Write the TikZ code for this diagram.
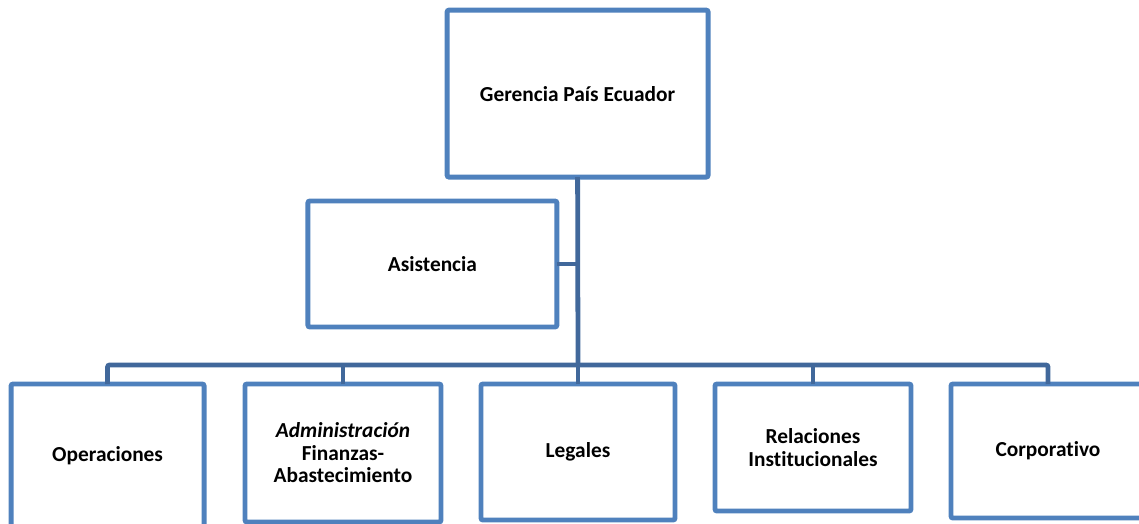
\documentclass[tikz,border=0pt]{standalone}
\usepackage{fontspec}
\setmainfont{Carlito}[Ligatures=NoCommon]
\usepackage{tikz}
\usetikzlibrary{positioning}
\definecolor{boxblue}{HTML}{4F81BD}
\definecolor{lineblue}{HTML}{41689B}

\begin{document}
\begin{tikzpicture}[
  unit/.style={draw=boxblue, line width=3.5pt, fill=white, rounded corners=0.5mm,
               outer sep=0pt, align=center, inner sep=1mm,
               font=\fontsize{15.2}{16}\selectfont\bfseries},
  link/.style={draw=lineblue, line width=3.4pt},
  ]
  \clip (0,0) rectangle (28.475,-13.1);
  % top and staff
  \node[unit, minimum width=6.525cm, minimum height=4.175cm] (ger) at (14.44,-2.34) {Gerencia País Ecuador};
  \node[unit, minimum width=6.225cm, minimum height=3.15cm] (asi) at (10.81,-6.6) {Asistencia};
  % bottom row
  \node[unit, anchor=north, minimum width=4.825cm, minimum height=3.6cm] (ope) at (2.69,-9.6) {Operaciones};
  \node[unit, anchor=north, minimum width=4.9cm, minimum height=3.45cm] (adm) at (8.575,-9.6) {\textit{Administración}\\Finanzas-\\Abastecimiento};
  \node[unit, anchor=north, minimum width=4.85cm, minimum height=3.4cm] (leg) at (14.45,-9.6) {Legales};
  \node[unit, anchor=north, minimum width=4.9cm, minimum height=3.175cm] (rel) at (20.325,-9.6) {Relaciones\\Institucionales};
  \node[unit, anchor=north, minimum width=4.85cm, minimum height=3.35cm] (cor) at (26.2,-9.6) {Corporativo};
  \coordinate (bar) at (14.45,-9.125);
  % connectors
  \draw[link] (ger.south) -- (bar);
  \draw[link] (asi.east) -- (asi.east -| bar);
  \draw[link, rounded corners=0.5mm] (ope.north) |- (bar) -| (cor.north);
  \draw[link] (adm.north) -- (adm.north |- bar);
  \draw[link] (leg.north) -- (bar);
  \draw[link] (rel.north) -- (rel.north |- bar);
\end{tikzpicture}
\end{document}
